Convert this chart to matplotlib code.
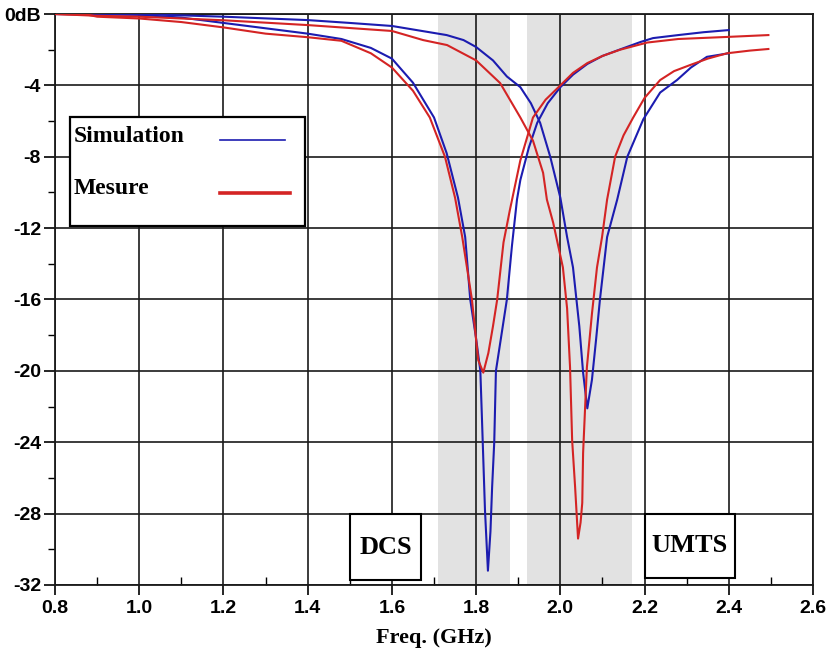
import matplotlib
matplotlib.use("Agg")
import matplotlib.pyplot as plt
from matplotlib.patches import Rectangle
from matplotlib.lines import Line2D
from matplotlib.ticker import MultipleLocator, FixedLocator

# ---------------- data ----------------
# Simulation, DCS resonance
sim_dcs_f = [0.80, 0.90, 1.00, 1.10, 1.20, 1.30, 1.40, 1.48, 1.55, 1.60, 1.65, 1.70, 1.73,
             1.757, 1.774, 1.786, 1.800, 1.810, 1.814, 1.821, 1.828, 1.834, 1.838, 1.843,
             1.847, 1.860, 1.873, 1.885, 1.897, 1.905, 1.925, 1.945, 1.970, 2.000, 2.030,
             2.064, 2.100, 2.140, 2.190, 2.220, 2.280, 2.340, 2.400]
sim_dcs_db = [0.0, -0.02, -0.05, -0.2, -0.5, -0.8, -1.1, -1.4, -1.9, -2.5, -3.85, -5.8, -7.8,
              -10.3, -12.5, -16.0, -18.2, -20.0, -22.8, -27.8, -31.2, -29.0, -26.5, -24.0,
              -20.0, -18.0, -16.0, -13.0, -10.4, -9.3, -7.5, -6.1, -5.0, -4.1, -3.4,
              -2.8, -2.35, -2.0, -1.57, -1.35, -1.18, -1.02, -0.9]

# Mesure, DCS resonance
mes_dcs_f = [0.80, 0.88, 0.90, 1.00, 1.10, 1.20, 1.30, 1.40, 1.48, 1.55, 1.60, 1.65, 1.69,
             1.726, 1.750, 1.767, 1.790, 1.805, 1.817, 1.829, 1.840, 1.850, 1.865, 1.880,
             1.905, 1.935, 1.965, 2.000, 2.030, 2.064, 2.100, 2.142, 2.206, 2.280, 2.400,
             2.494]
mes_dcs_db = [0.0, -0.05, -0.15, -0.25, -0.45, -0.75, -1.1, -1.3, -1.5, -2.2, -3.0, -4.3, -5.8,
              -8.0, -10.3, -12.5, -16.0, -19.4, -20.1, -19.0, -17.5, -16.0, -12.8, -11.0,
              -8.2, -5.8, -4.8, -4.0, -3.3, -2.75, -2.35, -2.0, -1.6, -1.4, -1.28,
              -1.18]

# Simulation, UMTS resonance
sim_umts_f = [0.80, 1.00, 1.20, 1.40, 1.50, 1.60, 1.73, 1.77, 1.80, 1.84, 1.873, 1.905, 1.930,
              1.952, 1.976, 2.000, 2.016, 2.030, 2.045, 2.054, 2.064, 2.075, 2.085, 2.094,
              2.111, 2.135, 2.159, 2.197, 2.237, 2.277, 2.310, 2.348, 2.400]
sim_umts_db = [0.0, 0.0, -0.15, -0.34, -0.5, -0.67, -1.18, -1.46, -1.85, -2.6, -3.5, -4.1, -5.0,
               -6.1, -8.0, -10.3, -12.5, -14.2, -17.5, -20.1, -22.1, -20.5, -18.2, -16.0,
               -12.5, -10.4, -8.0, -5.9, -4.4, -3.7, -3.0, -2.4, -2.2]

# Mesure, UMTS resonance
mes_umts_f = [0.80, 0.90, 1.00, 1.20, 1.40, 1.60, 1.674, 1.731, 1.800, 1.857, 1.905, 1.935,
              1.959, 1.968, 1.983, 2.006, 2.016, 2.023, 2.028, 2.035, 2.042, 2.048, 2.052,
              2.054, 2.063, 2.075, 2.087, 2.099, 2.111, 2.130, 2.150, 2.173, 2.200, 2.237,
              2.270, 2.308, 2.350, 2.396, 2.450, 2.494]
mes_umts_db = [0.0, -0.1, -0.15, -0.35, -0.62, -0.95, -1.46, -1.74, -2.6, -3.87, -5.8, -7.1,
               -8.9, -10.4, -11.7, -14.2, -16.5, -19.8, -23.9, -26.5, -29.4, -28.5, -27.4,
               -24.6, -19.8, -16.8, -14.2, -12.5, -10.4, -8.0, -6.8, -5.8, -4.7, -3.7,
               -3.2, -2.86, -2.5, -2.2, -2.05, -1.96]

# frequency bands (GHz)
dcs_band = (1.71, 1.88)
umts_band = (1.92, 2.17)

x_ticks = [0.8, 1.0, 1.2, 1.4, 1.6, 1.8, 2.0, 2.2, 2.4, 2.6]
x_ticklabels = ["0.8", "1.0", "1.2", "1.4", "1.6", "1.8", "2.0", "2.2", "2.4", "2.6"]
y_ticks = [0, -4, -8, -12, -16, -20, -24, -28, -32]
y_ticklabels = ["0dB", "-4", "-8", "-12", "-16", "-20", "-24", "-28", "-32"]

series_labels = ["Simulation", "Mesure"]
band_labels = ["DCS", "UMTS"]

# ---------------- style ----------------
tick_family = "Liberation Sans"
serif_family = "Liberation Serif"

BLUE = "#1c1cb0"
RED = "#d42424"
GRID = "#1a1a1a"
BAND = "#e2e2e2"

fig = plt.figure(figsize=(8.26, 6.52), dpi=100)
ax = fig.add_axes([0.0666, 0.1028, 0.9177, 0.8757])

ax.set_xlim(0.8, 2.6)
ax.set_ylim(-32, 0)

ax.axvspan(*dcs_band, color=BAND, lw=0, zorder=0)
ax.axvspan(*umts_band, color=BAND, lw=0, zorder=0)

ax.grid(True, which="major", color=GRID, lw=1.2, zorder=1)
ax.set_axisbelow(True)

ax.plot(sim_dcs_f, sim_dcs_db, color=BLUE, lw=1.5, zorder=3)
ax.plot(sim_umts_f, sim_umts_db, color=BLUE, lw=1.5, zorder=3)
ax.plot(mes_dcs_f, mes_dcs_db, color=RED, lw=1.5, zorder=3)
ax.plot(mes_umts_f, mes_umts_db, color=RED, lw=1.5, zorder=3)

ax.xaxis.set_major_locator(FixedLocator(x_ticks))
ax.set_xticklabels(x_ticklabels)
ax.xaxis.set_minor_locator(MultipleLocator(0.1))
ax.yaxis.set_major_locator(FixedLocator(y_ticks))
ax.set_yticklabels(y_ticklabels)
ax.yaxis.set_minor_locator(MultipleLocator(2))

ax.tick_params(axis="x", which="major", direction="out", length=7, width=1.2, pad=4,
               labelsize=14)
ax.tick_params(axis="x", which="minor", direction="in", length=6, width=1.0)
ax.tick_params(axis="y", which="major", direction="out", length=8, width=1.2, pad=2,
               labelsize=14)
ax.tick_params(axis="y", which="minor", direction="out", length=5, width=1.0)
for lab in ax.get_xticklabels() + ax.get_yticklabels():
    lab.set_family(tick_family)
    lab.set_fontweight("bold")

for s in ax.spines.values():
    s.set_color(GRID)
    s.set_linewidth(1.3)

ax.set_xlabel("Freq. (GHz)", family=serif_family, fontweight="bold", fontsize=16,
              labelpad=8)

# band label boxes
for (x0, x1, y0, y1), txt in zip([(1.50, 1.67, -31.7, -28.05), (2.20, 2.415, -31.6, -28.0)],
                                 band_labels):
    ax.add_patch(Rectangle((x0, y0), x1 - x0, y1 - y0, fc="white", ec="black", lw=1.5,
                           zorder=4))
    ax.text((x0 + x1) / 2, (y0 + y1) / 2, txt, ha="center", va="center",
            family=serif_family, fontweight="bold", fontsize=19, zorder=5)

# legend (drawn in axes coordinates)
T = ax.transAxes
ax.add_patch(Rectangle((0.02, 0.629), 0.31, 0.191, transform=T, fc="white", ec="black",
                       lw=1.6, zorder=6))
for label, color, lw, ty, ly, x1 in [(series_labels[0], BLUE, 1.2, 0.786, 0.779, 0.303),
                                      (series_labels[1], RED, 2.6, 0.694, 0.686, 0.310)]:
    ax.text(0.024, ty, label, transform=T, ha="left", va="center", family=serif_family,
            fontweight="bold", fontsize=17, zorder=7)
    ax.add_line(Line2D([0.218, x1], [ly, ly], transform=T, color=color, lw=lw, zorder=7))

fig.savefig("out.png", dpi=100, facecolor="white")
